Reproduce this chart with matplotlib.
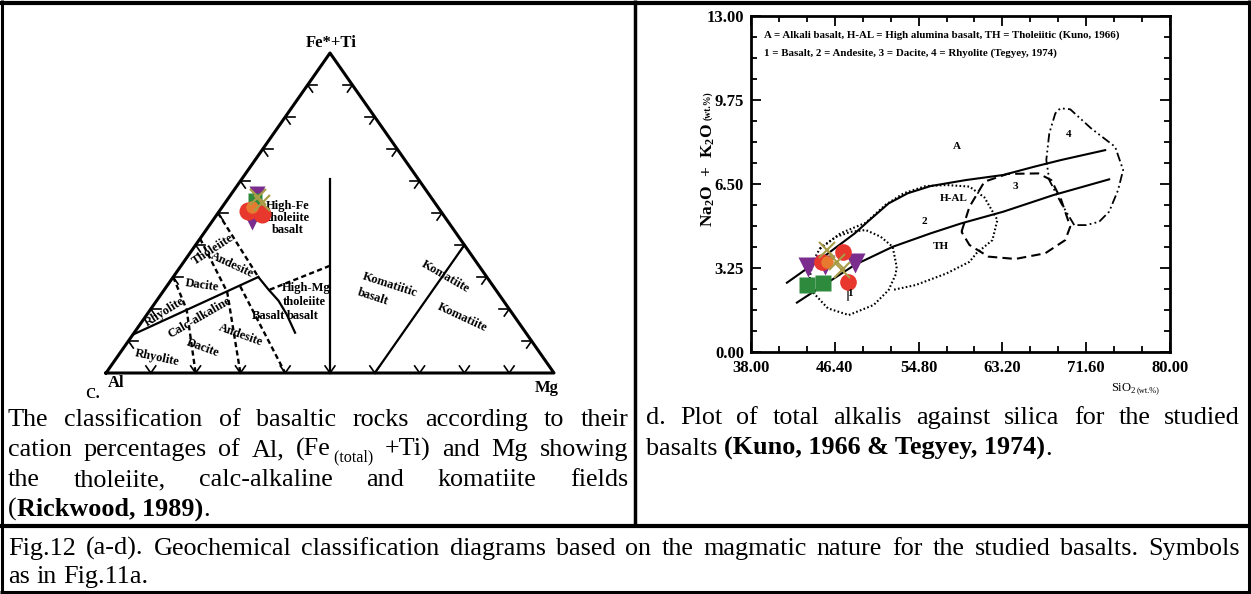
import numpy as np
import matplotlib
matplotlib.use("Agg")
import matplotlib.pyplot as plt

plt.rcParams['font.family'] = ['Liberation Serif', 'DejaVu Serif']
plt.rcParams['mathtext.fontset'] = 'custom'
plt.rcParams['mathtext.rm'] = 'Liberation Serif'
plt.rcParams['mathtext.bf'] = 'Liberation Serif:bold'

# ---------- c. Jensen cation plot, values as cation % (Fe*+Ti, Mg); Al = 100 - Fe - Mg
th_ca_fe = [12, 30]                      # tholeiite / calc-alkaline
th_ca_mg = [0, 19]
bas_hmg_fe = [30, 26.2, 22.6, 18.4, 12.6]  # basalt / high-Mg tholeiite
bas_hmg_mg = [19, 23.1, 27.2, 31.1, 35.9]
alm_fe = [0, 60.5]                       # Al = Mg line
alm_mg = [50, 19.75]
kom_fe = [0, 40]                         # komatiitic basalt / komatiite
kom_mg = [60, 60]
hft_fe = [33.5, 26]                      # high-Fe / high-Mg tholeiite
hft_mg = [33.2, 23.5]
rd_fe = [30, 19.8, 0]                    # rhyolite / dacite
rd_mg = [0, 8.1, 20]
da_fe = [42, 25.3, 0]                    # dacite / andesite
da_mg = [0, 14.4, 30]
ab1_fe = [50, 30]                        # andesite / basalt (tholeiitic part)
ab1_mg = [0, 19]
ab2_fe = [27.1, 0]                       # andesite / basalt (calc-alkaline part)
ab2_mg = [16.4, 40]

# samples in the ternary
t_tri_fe, t_tri_mg = [56.0, 47.1], [5.6, 9.0]
t_sq_fe, t_sq_mg = [54.0], [6.3]
t_red_fe, t_red_mg = [50.5, 49.8], [6.5, 9.9]
t_org_fe, t_org_mg = [52.0], [6.6]
t_x_fe, t_x_mg = [54.9, 53.0], [6.5, 8.3]

# ---------- d. total alkalis vs silica
alk_si = [41.6, 45.3, 48.4, 49.9, 51.8, 53.7, 56.0, 59.5, 63.3, 66.4, 69.1, 73.5]
alk_na = [2.68, 3.69, 4.59, 5.11, 5.75, 6.14, 6.42, 6.65, 6.85, 7.17, 7.43, 7.81]
th_si = [42.6, 48.4, 52.2, 56.0, 59.1, 63.3, 68.3, 73.9]
th_na = [1.91, 3.37, 4.07, 4.59, 4.98, 5.43, 6.07, 6.68]
f1_si = [44.9, 46.5, 48.0, 49.5, 51.0, 52.2, 52.6, 52.5, 51.8, 50.3, 47.8, 45.7, 44.3, 43.9, 44.2, 44.9]
f1_na = [4.0, 4.45, 4.65, 4.72, 4.46, 4.07, 3.3, 3.0, 2.4, 1.82, 1.43, 1.69, 2.27, 2.9, 3.5, 4.0]
f2_si = [44.9, 47.0, 49.5, 51.5, 53.3, 55.5, 57.6, 59.9, 61.4, 62.7, 62.2, 60.6, 59.9, 57.6, 54.5, 52.2]
f2_na = [4.0, 4.6, 5.0, 5.7, 6.14, 6.42, 6.46, 6.4, 5.98, 5.11, 4.33, 3.82, 3.49, 3.04, 2.59, 2.4]
f3_si = [59.1, 59.9, 61.4, 63.7, 66.8, 68.1, 69.1, 70.0, 69.5, 67.5, 64.5, 61.8, 59.9, 59.1]
f3_na = [4.65, 5.62, 6.59, 6.89, 6.91, 6.65, 5.88, 4.85, 4.33, 3.82, 3.6, 3.69, 4.14, 4.65]
f4_si = [70.4, 69.1, 67.9, 67.6, 67.9, 68.5, 69.0, 70.0, 72.1, 74.5, 75.3, 74.8, 73.9, 72.9, 71.6, 70.4]
f4_na = [4.91, 5.75, 6.65, 7.43, 8.46, 9.23, 9.43, 9.39, 8.65, 7.94, 7.04, 6.27, 5.43, 5.04, 4.91, 4.91]

tri_si, tri_na = [43.75, 45.4, 48.45], [3.30, 3.37, 3.43]
sq_si, sq_na = [43.6, 45.25], [2.59, 2.66]
red_si, red_na = [45.1, 47.25, 47.75], [3.49, 3.88, 2.72]
org_si, org_na = [45.6], [3.49]
x_si, x_na = [45.6, 46.6, 47.1], [3.95, 3.49, 3.17]

sio2_ticks = [38.00, 46.40, 54.80, 63.20, 71.60, 80.00]
alk_ticks = [0.00, 3.25, 6.50, 9.75, 13.00]

PURPLE, GREEN, RED, ORANGE, KHAKI = '#7b2d8e', '#2e8a3c', '#e8372c', '#e87a30', '#a99c48'

W, H = 1251, 594
fig = plt.figure(figsize=(W / 100, H / 100), dpi=100)
bg = fig.add_axes([0, 0, 1, 1])
bg.set_xlim(0, W)
bg.set_ylim(H, 0)
bg.axis('off')

# table borders
k = dict(color='black', solid_capstyle='butt')
bg.plot([0, W], [3, 3], lw=3.0, **k)
bg.plot([1.5, 1.5], [0, H], lw=2.2, **k)
bg.plot([W - 2, W - 2], [0, H], lw=2.2, **k)
bg.plot([0, W], [H - 2, H - 2], lw=2.2, **k)
bg.plot([635, 635], [0, 526], lw=2.5, **k)
bg.plot([0, W], [526, 526], lw=3.0, **k)


def tern(fe, mg):
    fe = np.asarray(fe, float)
    mg = np.asarray(mg, float)
    return (mg + fe / 2) / 100, fe / 100


# ---------------- ternary
tax = fig.add_axes([106 / W, (H - 373) / H, 448 / W, 320 / H])
tax.set_xlim(0, 1)
tax.set_ylim(0, 1)
tax.axis('off')
tax.patch.set_alpha(0)

tax.plot(*tern([0, 100, 0, 0], [0, 0, 100, 0]), color='black', lw=2.2, clip_on=False)
d = 2.2
for f in range(10, 100, 10):
    for a, b in [((f, f), (0, d)), ((f, f - d), (0, d)),
                 ((f, f), (100 - f, 100 - f - d)), ((f, f - d), (100 - f, 100 - f)),
                 ((0, d), (f, f)), ((0, d), (f, f - d))]:
        tax.plot(*tern(a, b), color='black', lw=1.2, clip_on=False)

for fe, mg in [(th_ca_fe, th_ca_mg), (bas_hmg_fe, bas_hmg_mg), (alm_fe, alm_mg), (kom_fe, kom_mg)]:
    tax.plot(*tern(fe, mg), color='black', lw=1.6, clip_on=False)
for fe, mg in [(hft_fe, hft_mg), (rd_fe, rd_mg), (da_fe, da_mg), (ab1_fe, ab1_mg), (ab2_fe, ab2_mg)]:
    tax.plot(*tern(fe, mg), color='black', lw=1.7, ls=(0, (2.2, 1.4)), clip_on=False)

tax.plot(*tern(t_tri_fe, t_tri_mg), 'v', color=PURPLE, ms=12, mec='none')
tax.plot(*tern(t_sq_fe, t_sq_mg), 's', color=GREEN, ms=10, mec='none')
tax.plot(*tern(t_red_fe, t_red_mg), 'o', color=RED, ms=13, mec='none')
tax.plot(*tern(t_org_fe, t_org_mg), 'o', color=ORANGE, ms=9, mec='none')
tax.plot(*tern(t_x_fe, t_x_mg), 'x', color=KHAKI, ms=11, mew=1.6)

lab = dict(fontsize=9, fontweight='bold', ha='center', va='center', rotation_mode='anchor')
for s, x, y, r in [("Tholeiite", 213, 250, 33), ("Andesite", 232, 265, -25), ("Dacite", 202, 285, -8),
                   ("Rhyolite", 165, 312, 32), ("Calc-alkaline", 200, 318, 30),
                   ("Andesite", 241, 335, -20), ("Dacite", 203, 348, -20), ("Rhyolite", 157, 358, -12),
                   ("Komatiite", 445, 277, -30), ("Komatiite", 462, 318, -25),
                   ("Komatiitic", 390, 285, -18), ("basalt", 373, 297, -18)]:
    bg.text(x, y, s, rotation=r, **lab)
bg.text(288, 218, "High-Fe\ntholeiite\nbasalt", fontsize=9, fontweight='bold', ha='center', va='center',
        linespacing=1.0)
small = dict(fontsize=9, fontweight='bold', va='center')
bg.text(282, 288, "High-Mg", ha='left', **small)
bg.text(283, 302, "tholeiite", ha='left', **small)
bg.text(285, 316, "Basalt", ha='right', **small)
bg.text(287, 316, "basalt", ha='left', **small)
bg.text(331, 43, "Fe*+Ti", fontsize=12, fontweight='bold', ha='center', va='center')
bg.text(108, 383, "Al", fontsize=12, fontweight='bold', ha='left', va='center')
bg.text(547, 388, "Mg", fontsize=12, fontweight='bold', ha='center', va='center')
bg.text(85, 398, "c.", fontsize=16, ha='left', va='baseline')

# ---------------- TAS diagram
ax = fig.add_axes([751 / W, (H - 352) / H, 419 / W, 336 / H])
ax.patch.set_alpha(0)
ax.set_xlim(38, 80)
ax.set_ylim(0, 13)
ax.set_xticks(sio2_ticks)
ax.set_xticks(np.arange(38, 80.01, 2.8), minor=True)
ax.set_yticks(alk_ticks)
ax.set_yticks(np.arange(0, 13.01, 0.8125), minor=True)
ax.set_xticklabels(['%.2f' % v for v in sio2_ticks], fontweight='bold', fontsize=12)
ax.set_yticklabels(['%.2f' % v for v in alk_ticks], fontweight='bold', fontsize=12)
ax.tick_params(which='both', direction='in', top=True, right=True, width=1.3)
ax.tick_params(which='major', length=7)
ax.tick_params(which='minor', length=4.5)
ax.tick_params(axis='x', pad=6)
ax.tick_params(axis='y', pad=5)
for sp in ax.spines.values():
    sp.set_linewidth(2.0)

ax.plot(alk_si, alk_na, color='black', lw=1.5)
ax.plot(th_si, th_na, color='black', lw=1.5)
ax.plot(f1_si, f1_na, color='black', lw=1.5, ls=(0, (0.8, 1.1)))
ax.plot(f2_si, f2_na, color='black', lw=1.5, ls=(0, (0.8, 1.1)))
ax.plot(f3_si, f3_na, color='black', lw=1.5, ls=(0, (4.5, 2.5)))
ax.plot(f4_si, f4_na, color='black', lw=1.3, ls=(0, (5, 1.8, 1, 1.8, 1, 1.8)))

ax.vlines(red_si[2], red_na[2] - 0.75, red_na[2] - 0.3, color='#444444', lw=1.2)
ax.plot(tri_si, tri_na, 'v', color=PURPLE, ms=14, mec='none')
ax.plot(sq_si, sq_na, 's', color=GREEN, ms=12, mec='none')
ax.plot(red_si, red_na, 'o', color=RED, ms=12, mec='none')
ax.plot(org_si, org_na, 'o', color=ORANGE, ms=9, mec='none')
ax.plot(x_si, x_na, 'x', color=KHAKI, ms=11, mew=1.5)

fl = dict(fontsize=8, fontweight='bold', ha='center', va='center')
for s, x, y in [("A", 58.6, 7.94), ("H-AL", 58.3, 5.94), ("2", 55.4, 5.04), ("TH", 57.0, 4.07),
                ("3", 64.5, 6.42), ("4", 69.8, 8.43), ("1", 47.9, 2.27)]:
    ax.text(x, y, s, **fl)

bg.text(764, 35, "A = Alkali basalt, H-AL = High alumina basalt, TH = Tholeiitic (Kuno, 1966)",
        fontsize=7.8, fontweight='bold', va='center')
bg.text(764, 53, "1 = Basalt, 2 = Andesite, 3 = Dacite, 4 = Rhyolite (Tegyey, 1974)",
        fontsize=7.8, fontweight='bold', va='center')
bg.text(708, 175, r'$\mathbf{Na_2O\ +\ K_2O}$', rotation=90, fontsize=12.5, ha='center', va='center')
bg.text(708, 106, '(wt.%)', rotation=90, fontsize=7, fontweight='bold', ha='center', va='center')
bg.text(1111, 392, r'SiO$_2$', fontsize=9, ha='left', va='baseline')
bg.text(1137, 392, '(wt.%)', fontsize=6, ha='left', va='baseline')

# ---------------- captions (justified like the Word table)
rend = fig.canvas.get_renderer()


def put_line(x0, x1, base, words, size, justify=True):
    placed = []
    for w in words:
        if isinstance(w, str):
            w = [(w, False, 1.0, 0)]
        runs = []
        for s, bold, kk, dy in w:
            t = bg.text(0, base + dy, s, fontsize=size * kk, fontweight='bold' if bold else 'normal',
                        ha='left', va='baseline')
            runs.append((t, t.get_window_extent(rend).width))
        placed.append(runs)
    total = sum(wd for runs in placed for _, wd in runs)
    if justify and len(placed) > 1:
        gap = (x1 - x0 - total) / (len(placed) - 1)
    else:
        gap = size * 0.25 * 100 / 72
    x = x0
    for runs in placed:
        for t, wd in runs:
            t.set_x(x)
            x += wd
        x += gap


FS = 18.8
put_line(8, 628, 426, "The classification of basaltic rocks according to their".split(), FS)
put_line(8, 628, 456, ["cation", "percentages", "of", "Al,",
                       [("(Fe", False, 1, 0), (" (total)", False, 0.62, 5)],
                       "+Ti)", "and", "Mg", "showing"], FS)
put_line(8, 628, 486, "the tholeiite, calc-alkaline and komatiite fields".split(), FS)
put_line(8, 628, 516, [[("(", False, 1, 0), ("Rickwood, 1989)", True, 1, 0), (".", False, 1, 0)]], FS,
         justify=False)
put_line(646, 1240, 424, "d. Plot of total alkalis against silica for the studied".split(), FS)
put_line(646, 1240, 455, ["basalts", [("(Kuno, 1966 & Tegyey, 1974)", True, 1, 0), (".", False, 1, 0)]], FS,
         justify=False)
put_line(8, 1240, 555, ("Fig.12 (a-d). Geochemical classification diagrams based on the magmatic nature "
                        "for the studied basalts. Symbols").split(), FS)
put_line(8, 1240, 583, "as in Fig.11a.".split(), FS, justify=False)

fig.savefig("out.png", dpi=100)
